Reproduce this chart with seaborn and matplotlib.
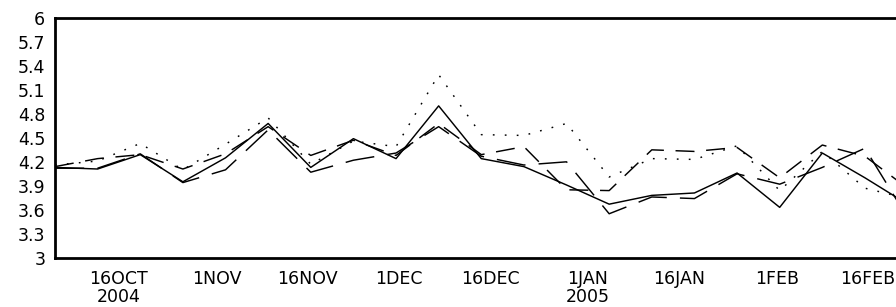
import numpy as np
import pandas as pd
import matplotlib
matplotlib.use("Agg")
import matplotlib.pyplot as plt
import seaborn as sns

# weekly dates (values plotted at mid-day)
dates = pd.date_range("2004-10-05", "2005-02-22", freq="7D")

solid = [4.13, 4.11, 4.29, 3.95, 4.25, 4.68, 4.13, 4.49, 4.24, 4.90, 4.24,
         4.14, 3.91, 3.67, 3.78, 3.81, 4.06, 3.63, 4.31, 4.00, 3.67]
dotted = [4.16, 4.21, 4.43, 4.10, 4.42, 4.75, 4.17, 4.46, 4.39, 5.29, 4.54,
          4.53, 4.68, 4.01, 4.24, 4.23, 4.40, 3.84, 4.33, 3.87, 3.74]
long_dash = [4.12, 4.12, 4.30, 3.94, 4.10, 4.60, 4.07, 4.22, 4.31, 4.64, 4.27,
             4.16, 4.20, 3.55, 3.76, 3.74, 4.05, 3.92, 4.13, 4.37, 3.50]
short_dash = [4.14, 4.24, 4.29, 4.11, 4.30, 4.64, 4.28, 4.47, 4.28, 4.68, 4.29,
              4.39, 3.85, 3.84, 4.35, 4.33, 4.38, 4.00, 4.41, 4.27, 3.87]

series = {"solid": solid, "dotted": dotted, "long": long_dash, "short": short_dash}
xticks = pd.to_datetime(["2004-10-16", "2004-11-01", "2004-11-16", "2004-12-01",
                         "2004-12-16", "2005-01-01", "2005-01-16", "2005-02-01",
                         "2005-02-16"])
xticklabels = ["16OCT\n2004", "1NOV", "16NOV", "1DEC", "16DEC", "1JAN\n2005",
               "16JAN", "1FEB", "16FEB"]
yticks = [3, 3.3, 3.6, 3.9, 4.2, 4.5, 4.8, 5.1, 5.4, 5.7, 6]
yticklabels = ["3", "3.3", "3.6", "3.9", "4.2", "4.5", "4.8", "5.1", "5.4", "5.7", "6"]

sns.set_style("white")
plt.rcParams["font.family"] = ["DejaVu Sans"]

fig = plt.figure(figsize=(8.96, 3.07), dpi=100)
ax = fig.add_axes([55 / 896, 1 - 257.7 / 307, 1 - 55 / 896, (257.7 - 18) / 307])

styles = {
    "solid": dict(linestyle="-"),
    "dotted": dict(dashes=(1.2, 7.0)),
    "long": dict(dashes=(20, 9)),
    "short": dict(dashes=(13, 8)),
}
t = dates + pd.Timedelta(hours=12)
for name, vals in series.items():
    df = pd.DataFrame({"date": t, "value": vals})
    sns.lineplot(data=df, x="date", y="value", ax=ax, color="black",
                 linewidth=1.05, **styles[name])

x0 = pd.Timestamp("2004-10-05 12:00")
ax.set_xlim(x0, x0 + pd.Timedelta(days=138.1))
ax.set_ylim(3, 6)
ax.set_yticks(yticks)
ax.set_yticklabels(yticklabels)
ax.set_xticks(xticks)
ax.set_xticklabels(xticklabels, linespacing=0.95)
ax.set_xlabel("")
ax.set_ylabel("")
for s in ["left", "bottom", "top"]:
    ax.spines[s].set_linewidth(2.0)
    ax.spines[s].set_color("black")
ax.spines["right"].set_visible(False)
ax.tick_params(axis="both", which="major", direction="out", length=5, width=1.5,
               color="black", labelsize=12.5, pad=2, labelcolor="black")
ax.tick_params(axis="x", pad=4)
fig.savefig("out.png", dpi=100)
